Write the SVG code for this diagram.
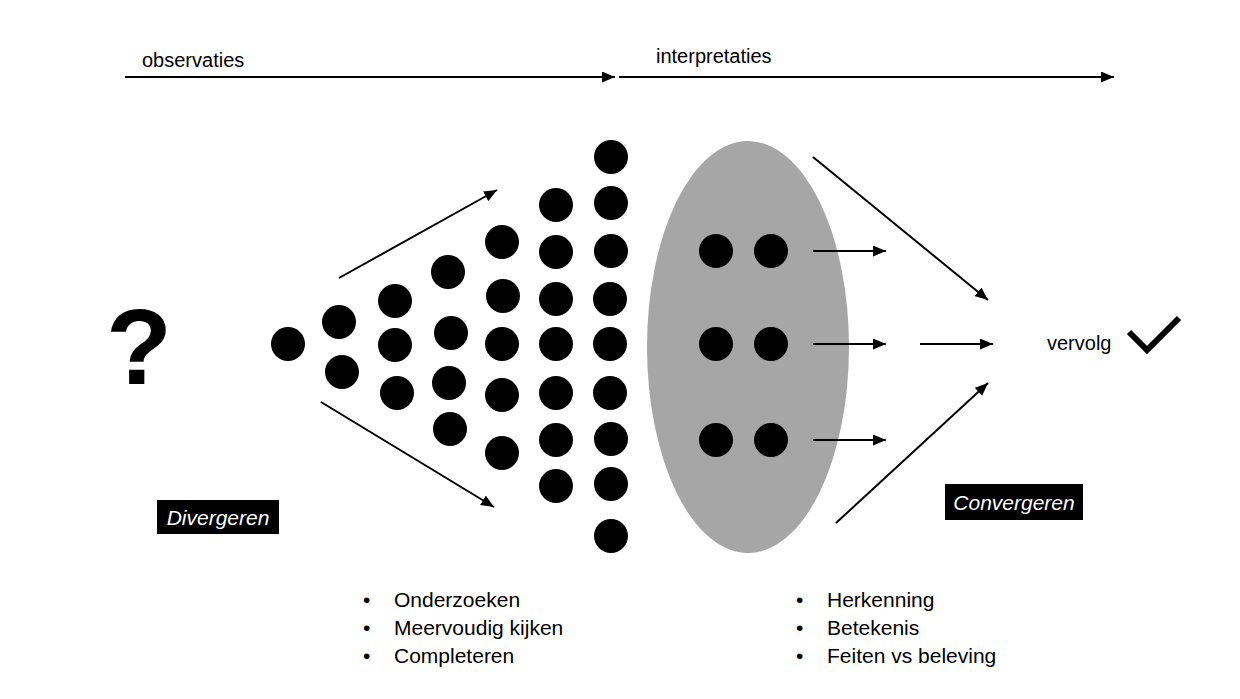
<svg xmlns="http://www.w3.org/2000/svg" width="1240" height="699" viewBox="0 0 1240 699">
<style>
text{font-family:"Liberation Sans",Arial,sans-serif;fill:#000}
.lbl{font-size:20px}
.bul{font-size:21px}
.box{fill:#000}
.boxt{font-size:21px;font-style:italic;fill:#fff;text-anchor:middle}
.dot{fill:#000}
.ln{stroke:#000;stroke-width:2;fill:none;marker-end:url(#ah)}
</style>
<defs>
<marker id="ah" markerUnits="userSpaceOnUse" markerWidth="13" markerHeight="11" refX="13" refY="5.5" orient="auto">
<path d="M0,0 L13,5.5 L0,11 z" fill="#000"/>
</marker>
</defs>
<rect width="1240" height="699" fill="#fff"/>

<g id="timeline">
<text class="lbl" x="142" y="67">observaties</text>
<text class="lbl" x="656" y="63">interpretaties</text>
</g>

<g id="question">
<text x="139" y="384" font-size="108" font-weight="bold" text-anchor="middle">?</text>
</g>

<g id="divergent-dots">
<circle class="dot" cx="288" cy="344" r="17"/>
<circle class="dot" cx="339" cy="322" r="17"/>
<circle class="dot" cx="342" cy="372" r="17"/>
<circle class="dot" cx="395" cy="301" r="17"/>
<circle class="dot" cx="395" cy="345" r="17"/>
<circle class="dot" cx="397" cy="393" r="17"/>
<circle class="dot" cx="448" cy="272" r="17"/>
<circle class="dot" cx="451" cy="333" r="17"/>
<circle class="dot" cx="449" cy="383" r="17"/>
<circle class="dot" cx="450" cy="429" r="17"/>
<circle class="dot" cx="502" cy="242" r="17"/>
<circle class="dot" cx="503" cy="296" r="17"/>
<circle class="dot" cx="502" cy="344" r="17"/>
<circle class="dot" cx="502" cy="395" r="17"/>
<circle class="dot" cx="502" cy="453" r="17"/>
<circle class="dot" cx="556" cy="205" r="17"/>
<circle class="dot" cx="556" cy="252" r="17"/>
<circle class="dot" cx="556" cy="299" r="17"/>
<circle class="dot" cx="556" cy="344" r="17"/>
<circle class="dot" cx="556" cy="393" r="17"/>
<circle class="dot" cx="556" cy="440" r="17"/>
<circle class="dot" cx="556" cy="486" r="17"/>
<circle class="dot" cx="611" cy="157" r="17"/>
<circle class="dot" cx="611" cy="203" r="17"/>
<circle class="dot" cx="611" cy="251" r="17"/>
<circle class="dot" cx="610" cy="299" r="17"/>
<circle class="dot" cx="610" cy="344" r="17"/>
<circle class="dot" cx="610" cy="393" r="17"/>
<circle class="dot" cx="611" cy="439" r="17"/>
<circle class="dot" cx="611" cy="484" r="17"/>
<circle class="dot" cx="611" cy="536" r="17"/>
</g>

<g id="cluster">
<ellipse cx="748" cy="347" rx="101" ry="206" fill="#a6a6a6"/>
<circle class="dot" cx="716" cy="251" r="17"/>
<circle class="dot" cx="771" cy="251" r="17"/>
<circle class="dot" cx="716" cy="344" r="17"/>
<circle class="dot" cx="771" cy="344" r="17"/>
<circle class="dot" cx="716" cy="440" r="17"/>
<circle class="dot" cx="771" cy="440" r="17"/>
</g>

<g id="divergeren">
<rect class="box" x="157" y="500" width="122" height="34"/>
<text class="boxt" x="218" y="525">Divergeren</text>
</g>

<g id="convergeren">
<rect class="box" x="945" y="484" width="138" height="36"/>
<text class="boxt" x="1014" y="510">Convergeren</text>
</g>

<g id="vervolg">
<text class="lbl" x="1047" y="350">vervolg</text>
<polyline points="1129,332 1147,350 1179,318" fill="none" stroke="#000" stroke-width="6"/>
</g>

<g id="list-left">
<text class="bul" x="363" y="607">•</text>
<text class="bul" x="394" y="607">Onderzoeken</text>
<text class="bul" x="363" y="635">•</text>
<text class="bul" x="394" y="635">Meervoudig kijken</text>
<text class="bul" x="363" y="663">•</text>
<text class="bul" x="394" y="663">Completeren</text>
</g>

<g id="list-right">
<text class="bul" x="796" y="607">•</text>
<text class="bul" x="827" y="607">Herkenning</text>
<text class="bul" x="796" y="635">•</text>
<text class="bul" x="827" y="635">Betekenis</text>
<text class="bul" x="796" y="663">•</text>
<text class="bul" x="827" y="663">Feiten vs beleving</text>
</g>

<g id="connectors">
<line class="ln" x1="125" y1="77" x2="615" y2="77"/>
<line class="ln" x1="619" y1="77" x2="1114" y2="77"/>
<line class="ln" x1="339" y1="278" x2="497" y2="190"/>
<line class="ln" x1="321" y1="402" x2="494" y2="507"/>
<line class="ln" x1="813" y1="251" x2="886" y2="251"/>
<line class="ln" x1="813" y1="344" x2="886" y2="344"/>
<line class="ln" x1="813" y1="440" x2="886" y2="440"/>
<line class="ln" x1="920" y1="344" x2="993" y2="344"/>
<line class="ln" x1="813" y1="157" x2="988" y2="300"/>
<line class="ln" x1="836" y1="523" x2="988" y2="383"/>
</g>
</svg>
